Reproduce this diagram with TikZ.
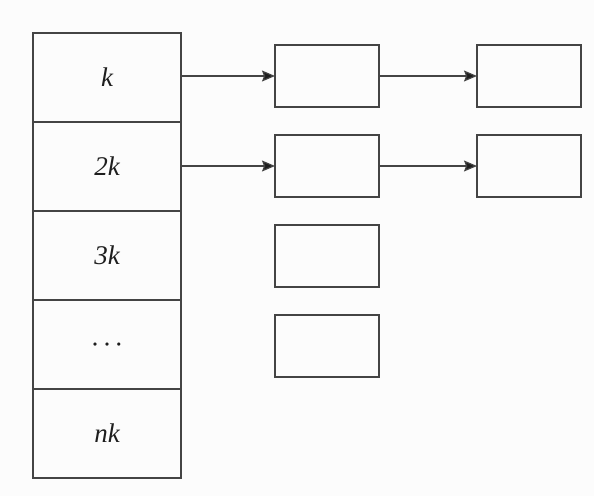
\documentclass[tikz,border=0pt]{standalone}
\usepackage{fontspec}
\setmainfont{Liberation Serif}
\usetikzlibrary{arrows.meta}
\definecolor{linec}{HTML}{444444}
\definecolor{textc}{HTML}{1E1E1E}
\tikzset{
  cell/.style={draw=linec, line width=1.8pt, minimum width=148pt, minimum height=89pt, inner sep=0pt, outer sep=0pt, text=textc, text height=17.2pt, text depth=0pt, font=\fontsize{27}{31}\selectfont\itshape},
  lbox/.style={draw=linec, line width=1.8pt, minimum width=104pt, minimum height=62pt, inner sep=0pt, outer sep=0pt},
  link/.style={draw=linec, line width=1.2pt, -{Stealth[length=13pt,width=11pt,inset=2pt,fill=textc]}}
}
\begin{document}
\begin{tikzpicture}[x=1pt,y=-1pt]
\useasboundingbox (0,0) rectangle (594,496);
\fill[white!98!gray] (0,0) rectangle (594,496);
\node[cell] (c1) at (107,77.5) {k};
\node[cell] (c2) at (107,166.5) {2k};
\node[cell] (c3) at (107,255.5) {3k};
\node[cell] (c4) at (107,344.5) {\upshape\textperiodcentered\hspace{3pt}\textperiodcentered\hspace{3pt}\textperiodcentered};
\node[cell] (c5) at (107,433.5) {nk};
\node[lbox] (a1) at (327,76) {};
\node[lbox] (b1) at (529,76) {};
\node[lbox] (a2) at (327,166) {};
\node[lbox] (b2) at (529,166) {};
\node[lbox] (a3) at (327,256) {};
\node[lbox] (a4) at (327,346) {};
\draw[link] (c1.east |- a1.west) -- (a1.west);
\draw[link] (a1.east) -- (b1.west);
\draw[link] (c2.east |- a2.west) -- (a2.west);
\draw[link] (a2.east) -- (b2.west);
\end{tikzpicture}
\end{document}
